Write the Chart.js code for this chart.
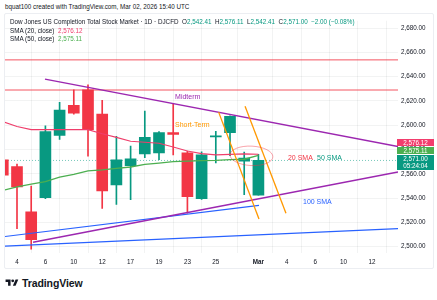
<!DOCTYPE html>
<html>
<head>
<meta charset="utf-8">
<script src="https://cdn.jsdelivr.net/npm/chart.js@4.4.1/dist/chart.umd.min.js"></script>
<style>
  body { margin: 0; background: #fff; width: 437px; height: 300px; position: relative; overflow: hidden;
         font-family: "Liberation Sans", Arial, sans-serif; color: #131722; }
  #credit { position: absolute; left: 5px; top: 3px; font-size: 6.3px; color: #131722; }
  #frame { position: absolute; left: 4px; top: 13px; width: 430px; height: 256px; border: 1px solid #eceef2; box-sizing: border-box; border-radius: 2px; }
  #chart { position: absolute; left: 5px; top: 14px; }
  #legend { position: absolute; left: 10px; top: 18px; font-size: 6.3px; line-height: 8.7px; color: #131722; }
  #logo { position: absolute; left: 5px; top: 277px; height: 12px; display: flex; align-items: center; }
  #logo span { font-weight: bold; font-size: 10.5px; margin-left: 3px; color: #131722; letter-spacing: -0.1px; }
</style>
</head>
<body>
<div id="credit">bquat100 created with TradingView.com, Mar 02, 2026 15:40 UTC</div>
<div id="frame"></div>
<canvas id="chart" width="430" height="254"></canvas>
<div id="legend"></div>
<div id="logo">
  <svg width="14" height="10" viewBox="0 0 36 28"><path d="M14 22H7V11H0V4h14v18z" fill="#131722"/><circle cx="20" cy="8" r="4" fill="#131722"/><path d="M28 22h-7.5l7.5-18h7.5L28 22z" fill="#131722"/></svg>
  <span>TradingView</span>
</div>

<script>
// trading days: Feb 3 .. Mar 2 (index 0..18), future days follow on the axis
const days = ['3', '4', '5', '6', '9', '10', '11', '12', '13', '17', '18', '19', '20', '23', '24', '25', '26', '27', 'Mar 2'];
const opens  = [2571.6, 2566.0, 2528.6, 2540.4, 2591.6, 2616.4, 2629.2, 2609.2, 2550.8, 2566.8, 2576.4, 2577.2, 2594.0, 2577.2, 2539.6, 2590.4, 2593.8, 2570.4, 2542.41];
const highs  = [2575.0, 2568.0, 2550.0, 2599.6, 2618.8, 2629.2, 2633.2, 2620.4, 2590.8, 2582.8, 2611.6, 2594.8, 2617.2, 2578.8, 2578.0, 2595.0, 2607.8, 2577.8, 2576.11];
const lows   = [2556.0, 2514.8, 2498.0, 2539.5, 2588.4, 2609.2, 2574.6, 2531.6, 2534.8, 2538.8, 2573.2, 2571.6, 2575.6, 2527.6, 2539.0, 2569.0, 2575.0, 2542.8, 2542.41];
const closes = [2558.8, 2549.2, 2505.8, 2594.8, 2612.4, 2610.0, 2596.4, 2546.0, 2571.6, 2572.4, 2590.0, 2594.0, 2592.4, 2541.2, 2575.6, 2591.2, 2607.4, 2573.0, 2571.00];

const sma20 = [2603.0, 2599.0, 2596.4, 2596.4, 2596.4, 2596.4, 2596.4, 2593.0, 2590.0, 2586.8, 2586.0, 2585.2, 2582.0, 2578.8, 2576.6, 2575.6, 2576.0, 2576.4, 2576.12];
const sma50 = [2546.4, 2549.2, 2551.6, 2553.6, 2557.2, 2559.6, 2562.4, 2563.2, 2564.4, 2565.6, 2567.8, 2568.8, 2570.0, 2570.4, 2570.8, 2571.0, 2571.6, 2572.0, 2575.11];

// x axis labels (index -> text)
const xTickIdx = [1, 3, 5, 7, 9, 11, 13, 15, 18, 20, 22, 24, 26];
const xTickText = ['4', '6', '10', '12', '17', '19', '23', '25', 'Mar', '4', '6', '10', '12'];
const yTicks = [2500, 2520, 2540, 2560, 2580, 2600, 2620, 2640, 2660, 2680];

// drawn lines: [x index, price] end points
const resistance1 = [[0.155, 2653.8], [27.83, 2653.8]];
const resistance2 = [[0.155, 2629.0], [27.83, 2629.0]];
const midtermTop = [[2.97, 2638.0], [27.83, 2582.5]];
const midtermBottom = [[2.13, 2503.6], [27.83, 2561.5]];
const blueUpper = [[0.155, 2508.4], [18.04, 2534.0]];
const blueLower = [[0.155, 2500.4], [27.83, 2514.8]];
const orange1 = [[15.2, 2610.8], [18.04, 2522.8]];
const orange2 = [[17.06, 2615.6], [19.94, 2527.6]];

const lastPrice = closes[closes.length - 1];
const xMin = 0.155, xMax = 27.83;

// legend text from the data
const fmt = v => v.toLocaleString('en-US', { minimumFractionDigits: 2, maximumFractionDigits: 2 });
const n = closes.length - 1;
const chg = closes[n] - 2573.00;
document.getElementById('legend').innerHTML =
  '<div>Dow Jones US Completion Total Stock Market · 1D · DJCFD&nbsp; O<span style="color:#089981">' + fmt(opens[n]) +
  '</span>&nbsp; H<span style="color:#089981">' + fmt(highs[n]) +
  '</span>&nbsp; L<span style="color:#089981">' + fmt(lows[n]) +
  '</span>&nbsp; C<span style="color:#089981">' + fmt(closes[n]) +
  '</span>&nbsp; <span style="color:#089981">\u2212' + fmt(Math.abs(chg)) + ' (\u22120.08%)</span></div>' +
  '<div>SMA (20, close)&nbsp; <span style="color:#f23d6d">' + fmt(sma20[n]) + '</span></div>' +
  '<div>SMA (50, close)&nbsp; <span style="color:#4caf50">' + fmt(sma50[n]) + '</span></div>';

const upColor = '#089981', downColor = '#f23645';
const barColors = opens.map((o, i) => closes[i] >= o ? upColor : downColor);
const toPts = arr => arr.map(p => ({ x: p[0], y: p[1] }));

function lineSet(pts, color, width, order) {
  return { type: 'line', data: toPts(pts), borderColor: color, borderWidth: width, pointRadius: 0, order: order };
}

const notes = [
  { text: 'Midterm', x: 12.13, y: 2623.0, color: '#9c27b0' },
  { text: 'Short-Term', x: 12.13, y: 2600.4, color: '#ff9800' },
  { text: '20 SMA', x: 20.08, y: 2573.2, color: '#f23645' },
  { text: '50 SMA', x: 22.13, y: 2573.2, color: '#089981' },
  { text: '100 SMA', x: 21.14, y: 2536.4, color: '#2962ff' }
];

const drawingsPlugin = {
  id: 'drawings',
  afterDatasetsDraw(chart) {
    const { ctx, scales: { x, y }, chartArea } = chart;
    ctx.save();
    ctx.beginPath();
    ctx.rect(chartArea.left, chartArea.top, chartArea.right - chartArea.left, chartArea.bottom - chartArea.top);
    ctx.clip();
    // ellipse around the SMA cross
    const cx = x.getPixelForValue(17.51), cy = y.getPixelForValue(2574.8);
    const rx = x.getPixelForValue(17.51 + 1.51) - cx, ry = y.getPixelForValue(2574.8 - 8) - cy;
    ctx.beginPath();
    ctx.ellipse(cx, cy, rx, ry, 0.05, 0, Math.PI * 2);
    ctx.strokeStyle = 'rgba(242,54,69,0.45)';
    ctx.lineWidth = 1;
    ctx.stroke();
    ctx.font = '7px "Liberation Sans", Arial, sans-serif';
    ctx.textBaseline = 'middle';
    notes.forEach(nt => {
      ctx.fillStyle = nt.color;
      ctx.fillText(nt.text, x.getPixelForValue(nt.x), y.getPixelForValue(nt.y));
    });
    ctx.restore();
  },
  afterDraw(chart) {
    const { ctx, scales: { y }, chartArea } = chart;
    const left = chartArea.right - 1, w = 37;
    const lastPx = Math.round(y.getPixelForValue(lastPrice));
    const tealTop = lastPx - 5, greenTop = tealTop - 8, pinkTop = greenTop - 8;
    ctx.save();
    ctx.font = '6.3px "Liberation Sans", Arial, sans-serif';
    ctx.textAlign = 'center';
    ctx.textBaseline = 'middle';
    const tag = (top, h, color, lines) => {
      ctx.fillStyle = color;
      ctx.fillRect(left, top, w, h);
      ctx.fillStyle = '#fff';
      lines.forEach((t, i) => ctx.fillText(t, left + w / 2, top + 4 + i * 7.2));
    };
    tag(pinkTop, 7, '#f23d6d', [fmt(sma20[n])]);
    tag(greenTop, 7, '#4caf50', [fmt(sma50[n])]);
    tag(tealTop, 15, '#089981', [fmt(lastPrice), '05:24:04']);
    ctx.restore();
  }
};

Chart.defaults.font.family = '"Liberation Sans", Arial, sans-serif';
Chart.defaults.font.size = 6.3;
Chart.defaults.color = '#131722';

new Chart(document.getElementById('chart'), {
  type: 'bar',
  data: {
    datasets: [
      { type: 'line', data: [{ x: xMin, y: lastPrice }, { x: xMax, y: lastPrice }], borderColor: 'rgba(8,153,129,0.55)',
        borderWidth: 1, borderDash: [1, 2], pointRadius: 0, order: 9 },
      { data: days.map((d, i) => ({ x: i, y: [lows[i], highs[i]] })), backgroundColor: barColors, barThickness: 1, grouped: false, order: 8 },
      { data: days.map((d, i) => ({ x: i, y: [opens[i], closes[i]] })), backgroundColor: barColors, barThickness: 11, grouped: false, order: 7 },
      { type: 'line', data: sma50.map((v, i) => ({ x: i, y: v })), borderColor: '#4caf50', borderWidth: 1.3, pointRadius: 0, order: 6 },
      { type: 'line', data: sma20.map((v, i) => ({ x: i, y: v })), borderColor: '#ef3e6b', borderWidth: 1.1, pointRadius: 0, order: 5 },
      lineSet(resistance1, 'rgba(242,54,69,0.85)', 1, 4),
      lineSet(resistance2, 'rgba(242,54,69,0.85)', 1, 4),
      lineSet(blueUpper, '#2962ff', 1.2, 3),
      lineSet(blueLower, '#2962ff', 1.2, 3),
      lineSet(midtermTop, '#9c27b0', 1.4, 2),
      lineSet(midtermBottom, '#9c27b0', 1.4, 2),
      lineSet(orange1, '#ff9800', 1.3, 1),
      lineSet(orange2, '#ff9800', 1.3, 1)
    ]
  },
  options: {
    responsive: false,
    animation: false,
    layout: { padding: 0 },
    plugins: { legend: { display: false }, tooltip: { enabled: false } },
    scales: {
      x: {
        type: 'linear', min: xMin, max: xMax, offset: false,
        grid: { color: 'rgba(42,46,57,0.06)', drawTicks: false },
        border: { display: false },
        afterBuildTicks: axis => { axis.ticks = xTickIdx.map(v => ({ value: v })); },
        afterFit: axis => { axis.height = 15; },
        ticks: {
          autoSkip: false, maxRotation: 0, padding: 5,
          callback: (v, i) => xTickText[i],
          font: c => (c.tick && c.tick.value === 18) ? { weight: 'bold', size: 6.3 } : { size: 6.3 }
        }
      },
      y: {
        position: 'right', min: 2494.8, max: 2686.0,
        grid: { color: 'rgba(42,46,57,0.06)', drawTicks: false },
        border: { display: false },
        afterBuildTicks: axis => { axis.ticks = yTicks.map(v => ({ value: v })); },
        afterFit: axis => { axis.width = 37; },
        ticks: { padding: 3, callback: v => fmt(v) }
      }
    }
  },
  plugins: [drawingsPlugin]
});
</script>
</body>
</html>
